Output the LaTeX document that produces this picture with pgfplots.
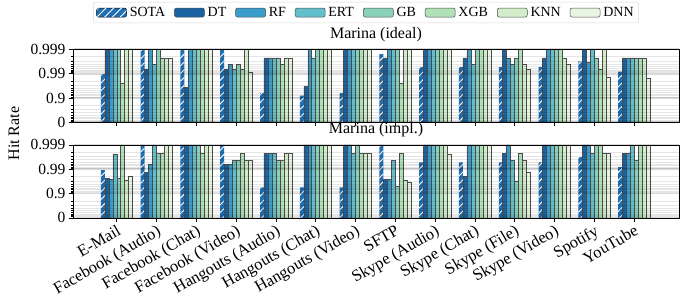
\documentclass[border=0pt]{standalone}
\usepackage{fontspec}
\setmainfont{Liberation Serif}
\usepackage{pgfplots}
\pgfplotsset{compat=1.18}
\usetikzlibrary{patterns.meta,calc}

\definecolor{cSOTA}{HTML}{1F6FB2}
\definecolor{cDT}{HTML}{1A63A2}
\definecolor{cRF}{HTML}{3A9DCC}
\definecolor{cERT}{HTML}{62BFCB}
\definecolor{cGB}{HTML}{8AD1BA}
\definecolor{cXGB}{HTML}{B0E0B5}
\definecolor{cKNN}{HTML}{D3EDCA}
\definecolor{cDNN}{HTML}{E8F5E0}

\pgfplotsset{
  hr/.style={
    width=606bp, height=73bp, scale only axis,
    xmin=-1.1, xmax=14.13, ymin=0, ymax=3,
    ybar=0pt, bar width=0.1,
    xtick={0,...,13},
    ytick={0,1,2,3}, yticklabels={0,0.9,0.99,0.999},
    minor ytick={0.0458,0.0969,0.1549,0.2218,0.3010,0.3979,0.5229,0.6990,
      1.0458,1.0969,1.1549,1.2218,1.3010,1.3979,1.5229,1.6990,
      2.0458,2.0969,2.1549,2.2218,2.3010,2.3979,2.5229,2.6990},
    ymajorgrids, yminorgrids,
    major grid style={black, opacity=0.15, line width=1.8bp},
    minor grid style={black, opacity=0.10, line width=0.6bp},
    tick pos=left, tick align=outside,
    major tick length=4bp, minor tick length=2.2bp,
    every tick/.style={black, line width=0.6bp},
    axis line style={line width=0.8bp},
    tick label style={font=\fontsize{15.5bp}{17bp}\selectfont},
    title style={inner sep=1.5bp, font=\fontsize{16bp}{18bp}\selectfont},
    axis on top,
    legend image code/.code={\draw[#1] (0bp,-4.5bp) rectangle (30bp,4.5bp);},
  },
  sota/.style={fill=cSOTA, draw=none,
    postaction={pattern={Lines[angle=45,distance=5.5bp,line width=0.9bp]}, pattern color=white}},
  bar/.style={fill=#1, draw=black!70, line width=0.5bp},
}

\begin{document}
\begin{tikzpicture}
% ---------------- top panel: Marina (ideal)
\begin{axis}[hr, name=top, title={Marina (ideal)}, xticklabels={},
  legend columns=8,
  legend style={at={(0.4835,1.648)}, anchor=north, draw=black!15, rounded corners=2bp,
    font=\fontsize{14bp}{16bp}\selectfont, inner ysep=3bp, inner xsep=3bp,
    /tikz/every odd column/.append style={column sep=1bp},
    /tikz/every even column/.append style={column sep=7bp}},
]
\addplot[sota] coordinates {(0,1.98)(1,3)(2,3)(3,3)(4,1.2)(5,1.1)(6,1.2)(7,2.8)(8,2.27)(9,2.27)(10,2.27)(11,2.27)(12,2.5)(13,2.08)};
\addplot[bar=cDT] coordinates {(0,3)(1,2.18)(2,1.45)(3,2.18)(4,2.65)(5,1.47)(6,3)(7,2.65)(8,3)(9,2.65)(10,3)(11,2.65)(12,3)(13,2.65)};
\addplot[bar=cRF] coordinates {(0,3)(1,3)(2,3)(3,2.38)(4,2.65)(5,3)(6,3)(7,3)(8,3)(9,3)(10,2.65)(11,3)(12,2.45)(13,2.65)};
\addplot[bar=cERT] coordinates {(0,3)(1,2.38)(2,3)(3,2.18)(4,2.65)(5,2.65)(6,3)(7,3)(8,3)(9,2.38)(10,2.38)(11,3)(12,3)(13,2.65)};
\addplot[bar=cGB] coordinates {(0,3)(1,3)(2,3)(3,2.38)(4,2.65)(5,3)(6,3)(7,3)(8,3)(9,3)(10,2.65)(11,3)(12,2.65)(13,2.65)};
\addplot[bar=cXGB] coordinates {(0,1.6)(1,2.65)(2,3)(3,2.18)(4,2.38)(5,3)(6,3)(7,1.6)(8,3)(9,3)(10,3)(11,3)(12,2.17)(13,2.65)};
\addplot[bar=cKNN] coordinates {(0,3)(1,2.65)(2,3)(3,3)(4,2.65)(5,3)(6,3)(7,3)(8,3)(9,3)(10,2.38)(11,2.65)(12,3)(13,2.65)};
\addplot[bar=cDNN] coordinates {(0,3)(1,2.65)(2,3)(3,2.05)(4,2.65)(5,3)(6,3)(7,3)(8,3)(9,3)(10,2.17)(11,2.38)(12,1.86)(13,1.8)};
\legend{SOTA,DT,RF,ERT,GB,XGB,KNN,DNN}
\end{axis}
% ---------------- bottom panel: Marina (impl.)
\begin{axis}[hr, name=bot, title={Marina (impl.)},
  at={($(top.south west)+(0,-22.6bp)$)}, anchor=north west,
  xticklabels={E-Mail,Facebook (Audio),Facebook (Chat),Facebook (Video),Hangouts (Audio),Hangouts (Chat),Hangouts (Video),SFTP,Skype (Audio),Skype (Chat),Skype (File),Skype (Video),Spotify,YouTube},
  x tick label style={rotate=30, anchor=north east, inner sep=1.5bp, font=\fontsize{16.5bp}{18bp}\selectfont},
]
\addplot[sota] coordinates {(0,1.96)(1,3)(2,3)(3,3)(4,1.25)(5,1.25)(6,1.25)(7,3)(8,2.28)(9,2.28)(10,2.28)(11,2.28)(12,2.5)(13,2.09)};
\addplot[bar=cDT] coordinates {(0,1.62)(1,1.87)(2,3)(3,2.19)(4,2.65)(5,3)(6,3)(7,1.58)(8,3)(9,1.7)(10,2.65)(11,3)(12,3)(13,2.65)};
\addplot[bar=cRF] coordinates {(0,1.58)(1,2.2)(2,3)(3,2.19)(4,2.65)(5,3)(6,3)(7,1.58)(8,3)(9,3)(10,3)(11,3)(12,3)(13,2.65)};
\addplot[bar=cERT] coordinates {(0,2.63)(1,3)(2,3)(3,2.35)(4,2.65)(5,3)(6,2.65)(7,2.35)(8,3)(9,3)(10,2.35)(11,3)(12,2.65)(13,3)};
\addplot[bar=cGB] coordinates {(0,1.62)(1,2.65)(2,3)(3,2.35)(4,2.35)(5,3)(6,3)(7,1.3)(8,3)(9,3)(10,1.52)(11,3)(12,3)(13,2.35)};
\addplot[bar=cXGB] coordinates {(0,3)(1,2.65)(2,2.65)(3,2.65)(4,2.35)(5,3)(6,2.65)(7,2.65)(8,3)(9,3)(10,2.65)(11,3)(12,3)(13,3)};
\addplot[bar=cKNN] coordinates {(0,1.53)(1,3)(2,3)(3,2.35)(4,2.65)(5,3)(6,2.65)(7,1.55)(8,3)(9,3)(10,2.35)(11,3)(12,2.65)(13,3)};
\addplot[bar=cDNN] coordinates {(0,1.71)(1,3)(2,3)(3,2.35)(4,2.65)(5,3)(6,2.65)(7,1.48)(8,2.63)(9,3)(10,1.86)(11,3)(12,2.65)(13,3)};
\end{axis}
\node[rotate=90, font=\fontsize{16bp}{18bp}\selectfont] at ($(top.south west)!0.5!(bot.north west)+(-59bp,0)$) {Hit Rate};
\path ($(top.north west)+(-73bp,49.3bp)$) rectangle ($(bot.south east)+(7bp,-82.7bp)$);
\end{tikzpicture}
\end{document}
